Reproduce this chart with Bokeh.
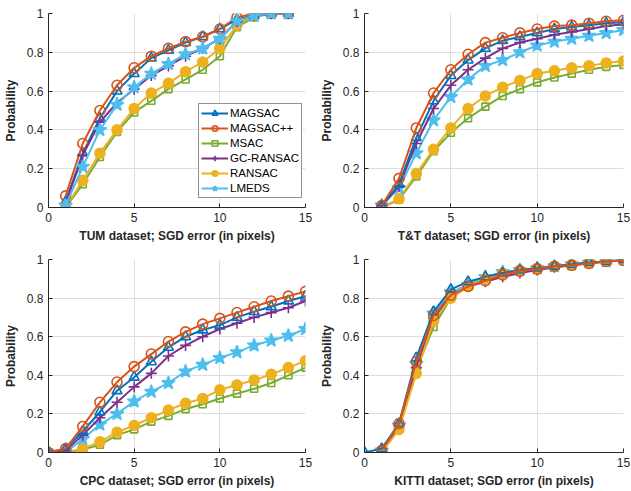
from bokeh.plotting import figure
from bokeh.layouts import gridplot
from bokeh.models import FixedTicker, NumeralTickFormatter, Legend, LegendItem, Range1d
from bokeh.embed import file_html
from bokeh.resources import INLINE

methods = ["MAGSAC", "MAGSAC++", "MSAC", "GC-RANSAC", "RANSAC", "LMEDS"]
x_ticks = [0, 5, 10, 15]
y_ticks = [0, 0.2, 0.4, 0.6, 0.8, 1]

# TUM dataset
tum_x = [1, 2, 3, 4, 5, 6, 7, 8, 9, 10, 11, 12, 13, 14]
tum_magsac = [0.03, 0.28, 0.46, 0.60, 0.69, 0.77, 0.81, 0.85, 0.88, 0.92, 0.97, 0.99, 1.0, 1.0]
tum_magsacpp = [0.06, 0.33, 0.50, 0.63, 0.72, 0.78, 0.82, 0.855, 0.88, 0.92, 0.98, 1.0, 1.0, 1.0]
tum_msac = [0.0, 0.12, 0.26, 0.39, 0.49, 0.55, 0.61, 0.66, 0.71, 0.78, 0.93, 0.98, 1.0, 1.0]
tum_gc = [0.02, 0.27, 0.44, 0.54, 0.61, 0.68, 0.73, 0.78, 0.82, 0.87, 0.96, 0.99, 1.0, 1.0]
tum_ransac = [0.0, 0.14, 0.28, 0.40, 0.51, 0.59, 0.64, 0.70, 0.75, 0.82, 0.94, 0.99, 1.0, 1.0]
tum_lmeds = [0.01, 0.21, 0.40, 0.53, 0.62, 0.69, 0.74, 0.79, 0.82, 0.87, 0.96, 0.99, 1.0, 1.0]

# T&T dataset
tt_x = [1, 2, 3, 4, 5, 6, 7, 8, 9, 10, 11, 12, 13, 14, 15]
tt_magsac = [0.01, 0.12, 0.36, 0.55, 0.68, 0.76, 0.82, 0.86, 0.88, 0.90, 0.92, 0.93, 0.94, 0.95, 0.955]
tt_magsacpp = [0.01, 0.15, 0.41, 0.59, 0.71, 0.79, 0.85, 0.875, 0.90, 0.92, 0.935, 0.94, 0.95, 0.96, 0.965]
tt_msac = [0.0, 0.04, 0.16, 0.29, 0.385, 0.46, 0.52, 0.575, 0.61, 0.645, 0.67, 0.69, 0.71, 0.725, 0.735]
tt_gc = [0.01, 0.11, 0.33, 0.51, 0.63, 0.71, 0.77, 0.82, 0.85, 0.87, 0.89, 0.905, 0.92, 0.935, 0.945]
tt_ransac = [0.0, 0.045, 0.175, 0.30, 0.41, 0.51, 0.575, 0.62, 0.655, 0.69, 0.705, 0.72, 0.73, 0.745, 0.755]
tt_lmeds = [0.01, 0.10, 0.28, 0.45, 0.57, 0.66, 0.73, 0.76, 0.80, 0.835, 0.855, 0.87, 0.885, 0.90, 0.915]

# CPC dataset
cpc_x = [0, 1, 2, 3, 4, 5, 6, 7, 8, 9, 10, 11, 12, 13, 14, 15]
cpc_magsac = [0.0, 0.02, 0.11, 0.21, 0.32, 0.39, 0.47, 0.545, 0.60, 0.635, 0.66, 0.70, 0.73, 0.755, 0.785, 0.81]
cpc_magsacpp = [0.0, 0.02, 0.135, 0.26, 0.365, 0.445, 0.51, 0.575, 0.625, 0.665, 0.695, 0.725, 0.755, 0.785, 0.81, 0.835]
cpc_msac = [0.0, 0.0, 0.015, 0.04, 0.09, 0.12, 0.16, 0.19, 0.225, 0.25, 0.28, 0.305, 0.33, 0.36, 0.40, 0.44]
cpc_gc = [0.0, 0.01, 0.09, 0.18, 0.26, 0.34, 0.41, 0.50, 0.555, 0.60, 0.64, 0.67, 0.70, 0.725, 0.75, 0.785]
cpc_ransac = [0.0, 0.0, 0.02, 0.055, 0.105, 0.14, 0.18, 0.22, 0.255, 0.28, 0.325, 0.35, 0.375, 0.405, 0.44, 0.475]
cpc_lmeds = [0.0, 0.0, 0.07, 0.145, 0.20, 0.265, 0.315, 0.36, 0.42, 0.455, 0.49, 0.52, 0.555, 0.58, 0.605, 0.64]

# KITTI dataset (MAGSAC starts at 0, the others at 1)
kitti_x0 = [0, 1, 2, 3, 4, 5, 6, 7, 8, 9, 10, 11, 12, 13, 14, 15]
kitti_x1 = [1, 2, 3, 4, 5, 6, 7, 8, 9, 10, 11, 12, 13, 14, 15]
kitti_magsac = [0.0, 0.02, 0.15, 0.49, 0.73, 0.845, 0.885, 0.91, 0.93, 0.945, 0.955, 0.965, 0.975, 0.985, 0.99, 1.0]
kitti_magsacpp = [0.01, 0.15, 0.47, 0.71, 0.815, 0.86, 0.89, 0.92, 0.94, 0.95, 0.965, 0.97, 0.98, 0.99, 0.995]
kitti_msac = [0.01, 0.13, 0.43, 0.65, 0.80, 0.86, 0.90, 0.925, 0.94, 0.95, 0.96, 0.97, 0.98, 0.99, 0.995]
kitti_gc = [0.01, 0.14, 0.44, 0.69, 0.81, 0.86, 0.885, 0.91, 0.93, 0.945, 0.96, 0.97, 0.98, 0.99, 0.995]
kitti_ransac = [0.0, 0.12, 0.41, 0.68, 0.80, 0.86, 0.90, 0.93, 0.945, 0.955, 0.965, 0.975, 0.985, 0.99, 0.995]
kitti_lmeds = [0.01, 0.14, 0.46, 0.72, 0.83, 0.87, 0.91, 0.935, 0.945, 0.955, 0.965, 0.975, 0.985, 0.99, 1.0]

colors = {"MAGSAC": "#0072BD", "MAGSAC++": "#D95319", "MSAC": "#77AC30",
          "GC-RANSAC": "#7E2F8E", "RANSAC": "#EDB120", "LMEDS": "#4DBEEE"}
markers = {"MAGSAC": ("triangle", 10, False), "MAGSAC++": ("circle", 10, False),
           "MSAC": ("square", 7, False), "GC-RANSAC": ("cross", 11, False),
           "RANSAC": ("circle", 10, True), "LMEDS": ("star", 14, True)}

FONT = "Liberation Sans"
INK = "#262626"


def make_fig(xs, data, xlabel, w, h, bl, br, bt, bb, order, legend=False):
    p = figure(width=w, height=h, x_range=Range1d(0, 15), y_range=Range1d(0, 1),
               output_backend="svg", toolbar_location=None,
               min_border_left=bl, min_border_right=br,
               min_border_top=bt, min_border_bottom=bb)
    p.outline_line_color = None
    p.xaxis.ticker = FixedTicker(ticks=x_ticks)
    p.yaxis.ticker = FixedTicker(ticks=y_ticks)
    p.yaxis.formatter = NumeralTickFormatter(format="0.[0]")
    for ax in (p.xaxis[0], p.yaxis[0]):
        ax.axis_line_color = INK
        ax.major_tick_line_color = INK
        ax.major_tick_in = 4
        ax.major_tick_out = 0
        ax.minor_tick_line_color = None
        ax.major_label_text_color = INK
        ax.major_label_text_font = FONT
        ax.major_label_text_font_size = "12px"
        ax.axis_label_text_font = FONT
        ax.axis_label_text_font_size = "12px"
        ax.axis_label_text_font_style = "bold"
        ax.axis_label_text_color = INK
    p.xaxis.axis_label = xlabel
    p.yaxis.axis_label = "Probability"
    p.xaxis.major_label_standoff = 5
    p.xaxis.axis_label_standoff = 4
    p.yaxis.major_label_standoff = 5
    p.yaxis.axis_label_standoff = 6
    p.grid.grid_line_color = "#dedede"
    p.grid.grid_line_width = 1

    items = {}
    for m in order:
        c = colors[m]
        mk, sz, filled = markers[m]
        x = xs[m] if isinstance(xs, dict) else xs
        l = p.line(x, data[m], line_color=c, line_width=2)
        s = p.scatter(x, data[m], marker=mk, size=sz, line_color=c, line_width=1.6,
                      fill_color=c, fill_alpha=1.0 if filled else 0.0)
        items[m] = [l, s]
    if legend:
        lg = Legend(items=[LegendItem(label=m, renderers=items[m]) for m in methods],
                    location=(150, 9))
        lg.label_text_font = FONT
        lg.label_text_font_size = "11.5px"
        lg.label_text_color = "#000000"
        lg.border_line_color = INK
        lg.border_line_width = 1
        lg.background_fill_alpha = 1.0
        lg.glyph_width = 27
        lg.glyph_height = 14
        lg.label_height = 14
        lg.label_standoff = 2
        lg.spacing = 1
        lg.padding = 2
        lg.margin = 0
        p.add_layout(lg, "center")
    return p


tum = dict(zip(methods, [tum_magsac, tum_magsacpp, tum_msac, tum_gc, tum_ransac, tum_lmeds]))
tt = dict(zip(methods, [tt_magsac, tt_magsacpp, tt_msac, tt_gc, tt_ransac, tt_lmeds]))
cpc = dict(zip(methods, [cpc_magsac, cpc_magsacpp, cpc_msac, cpc_gc, cpc_ransac, cpc_lmeds]))
kitti = dict(zip(methods, [kitti_magsac, kitti_magsacpp, kitti_msac, kitti_gc, kitti_ransac, kitti_lmeds]))
kitti_xs = {m: (kitti_x0 if m == "MAGSAC" else kitti_x1) for m in methods}

order_std = ["MSAC", "RANSAC", "LMEDS", "GC-RANSAC", "MAGSAC", "MAGSAC++"]
order_tum = ["MSAC", "RANSAC", "MAGSAC", "MAGSAC++", "GC-RANSAC", "LMEDS"]
order_kitti = ["LMEDS", "MSAC", "GC-RANSAC", "RANSAC", "MAGSAC", "MAGSAC++"]

p1 = make_fig(tum_x, tum, "TUM dataset; SGD error (in pixels)", 315, 245, 48, 10, 13, 38, order_tum, legend=True)
p2 = make_fig(tt_x, tt, "T&T dataset; SGD error (in pixels)", 316, 245, 49, 8, 13, 38, order_std)
p3 = make_fig(cpc_x, cpc, "CPC dataset; SGD error (in pixels)", 315, 246, 48, 10, 14, 39, order_std)
p4 = make_fig(kitti_xs, kitti, "KITTI dataset; SGD error (in pixels)", 316, 246, 49, 8, 14, 39, order_kitti)

grid = gridplot([[p1, p2], [p3, p4]], toolbar_location=None)

open("out.html", "w").write(file_html(grid, INLINE))
